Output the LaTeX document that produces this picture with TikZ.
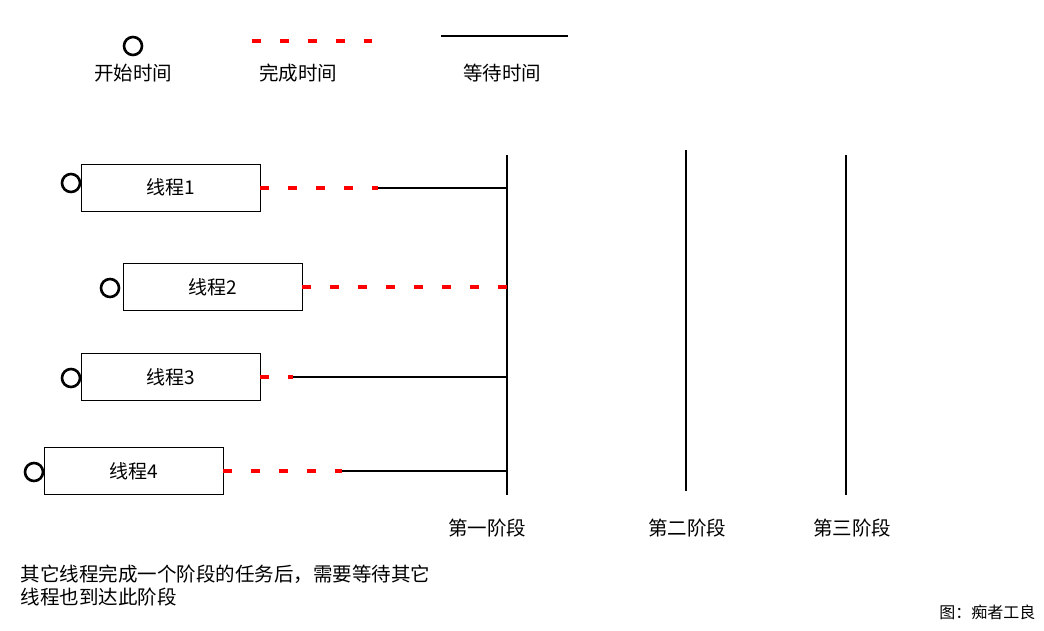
\documentclass[tikz,border=0pt]{standalone}
\usepackage{fontspec}
\setmainfont{Noto Sans CJK SC}
\begin{document}
\begin{tikzpicture}[x=1pt,y=-1pt]

    \tikzset{
      startdot/.style={
        circle,
        draw,
        line width=2.6pt,
        inner sep=0pt,
        minimum size=18pt,
      },
      thread/.style={
        draw,
        line width=0.8pt,
        minimum width=179pt,
        minimum height=47pt,
        font=\fontsize{19}{23}\selectfont,
      },
      label/.style={
        font=\fontsize{19.5}{24}\selectfont,
      },
      done/.style={
        color={red},
        line width=4pt,
        dash pattern=on 9pt off 19pt,
      },
      wait/.style={
        color={black},
        line width=2pt,
      },
      stage/.style={
        color={black},
        line width=2pt,
      },
    }
    \useasboundingbox (0,0) rectangle (1044,631);
    % legend
	\node[startdot] (ldot) at (133,46) {};
	\node[label] (lstart) at (133,73) {开始时间};
	\coordinate (ldoneA) at (252,41);
	\coordinate (ldoneB) at (372,41);
	\draw[done] (ldoneA)--(ldoneB);
	\node[label] (ldone) at (298,73) {完成时间};
	\coordinate (lwaitA) at (441,36);
	\coordinate (lwaitB) at (568,36);
	\draw[wait] (lwaitA)--(lwaitB);
	\node[label] (lwait) at (502,73) {等待时间};

    % stages
	\coordinate (s1top) at (507,155);
	\coordinate (s1bot) at (507,495);
	\coordinate (s2top) at (686,150);
	\coordinate (s2bot) at (686,491);
	\coordinate (s3top) at (846,155);
	\coordinate (s3bot) at (846,495);
	\draw[stage] (s1top)--(s1bot);
	\draw[stage] (s2top)--(s2bot);
	\draw[stage] (s3top)--(s3bot);
	\node[label] (s1) at (487,528) {第一阶段};
	\node[label] (s2) at (687,528) {第二阶段};
	\node[label] (s3) at (852,528) {第三阶段};

    % threads
	\node[thread] (t1) at (170.5,187.5) {线程1};
	\node[thread] (t2) at (212.5,287) {线程2};
	\node[thread] (t3) at (170.5,377) {线程3};
	\node[thread] (t4) at (133.5,471) {线程4};
	\node[startdot] (d1) at (71,183) {};
	\node[startdot] (d2) at (110,288) {};
	\node[startdot] (d3) at (71,378) {};
	\node[startdot] (d4) at (34,472) {};
	\coordinate (f1) at (378,188);
	\coordinate (f3) at (293,377);
	\coordinate (f4) at (342,471);
	\draw[done] (t1.east |- f1)--(f1);
	\draw[wait] (f1)--(f1 -| s1top);
	\draw[done] (t2.east)--(t2.east -| s1top);
	\draw[done] (t3.east)--(f3);
	\draw[wait] (f3)--(f3 -| s1top);
	\draw[done] (t4.east)--(f4);
	\draw[wait] (f4)--(f4 -| s1top);

    % notes
	\node[label,anchor=west] (note1) at (17,574) {其它线程完成一个阶段的任务后，需要等待其它};
	\node[label,anchor=west] (note2) at (17,597) {线程也到达此阶段};
	\node[font=\fontsize{16}{19}\selectfont,anchor=east] (credit) at (1039,612) {图：痴者工良};

\end{tikzpicture}
\end{document}
